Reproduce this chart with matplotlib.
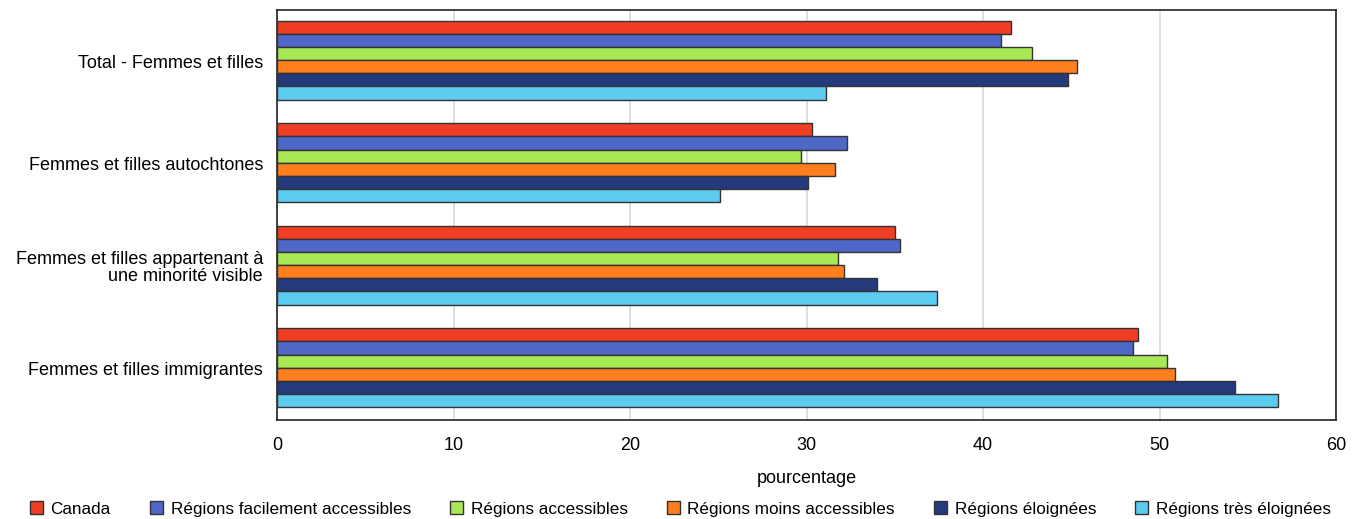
import matplotlib
matplotlib.use("Agg")
import matplotlib.pyplot as plt
import numpy as np
from matplotlib.patches import Patch

plt.rcParams['font.family'] = ['Liberation Sans Narrow', 'Liberation Sans', 'DejaVu Sans']

categories = ["Total - Femmes et filles",
              "Femmes et filles autochtones",
              "Femmes et filles appartenant à\nune minorité visible",
              "Femmes et filles immigrantes"]
series_names = ["Canada", "Régions facilement accessibles", "Régions accessibles",
                "Régions moins accessibles", "Régions éloignées", "Régions très éloignées"]
canada = [41.6, 30.3, 35.0, 48.8]
facile = [41.0, 32.3, 35.3, 48.5]
accessibles = [42.8, 29.7, 31.8, 50.4]
moins = [45.3, 31.6, 32.1, 50.9]
eloignees = [44.8, 30.1, 34.0, 54.3]
tres = [31.1, 25.1, 37.4, 56.7]
series_values = [canada, facile, accessibles, moins, eloignees, tres]
colors = ["#EF3E23", "#4F67C6", "#A8E854", "#FF7F1E", "#253A7D", "#5BCBF0"]
xticks = [0, 10, 20, 30, 40, 50, 60]

fig = plt.figure(figsize=(13.61, 5.19), dpi=100)
ax = fig.add_axes([277/1361, 1-420/519, (1336-277)/1361, (420-10)/519])

n = len(series_values)
bh = 0.128
y0 = np.arange(len(categories))
for i, (vals, c) in enumerate(zip(series_values, colors)):
    ypos = y0 + (i - (n-1)/2) * bh - 0.01
    ax.barh(ypos, vals, height=bh, color=c, edgecolor="#333333", linewidth=1.0, zorder=3)

ax.set_ylim(len(categories) - 0.5, -0.5)
ax.set_yticks(y0)
ax.set_yticklabels(categories, fontsize=13, linespacing=0.95)
ax.set_xlim(0, 60)
ax.set_xticks(xticks)
ax.set_xticklabels([str(t) for t in xticks], fontsize=13)
ax.tick_params(axis='both', length=0, pad=10)
ax.tick_params(axis='x', pad=12)
ax.xaxis.grid(True, color="#D9D9D9", linewidth=1.2, zorder=0)
ax.set_axisbelow(True)
for s in ax.spines.values():
    s.set_color("#222222")
    s.set_linewidth(1.2)
ax.set_xlabel("pourcentage", fontsize=13, labelpad=12)

handles = [Patch(facecolor=c, edgecolor="#333333", label=l) for c, l in zip(colors, series_names)]
fig.legend(handles=handles, loc="lower center", bbox_to_anchor=(0.5, -0.025), ncol=6,
           frameon=False, fontsize=12.3, handlelength=0.75, handleheight=0.75,
           handletextpad=0.45, columnspacing=2.3)

fig.savefig("out.png", dpi=100)
